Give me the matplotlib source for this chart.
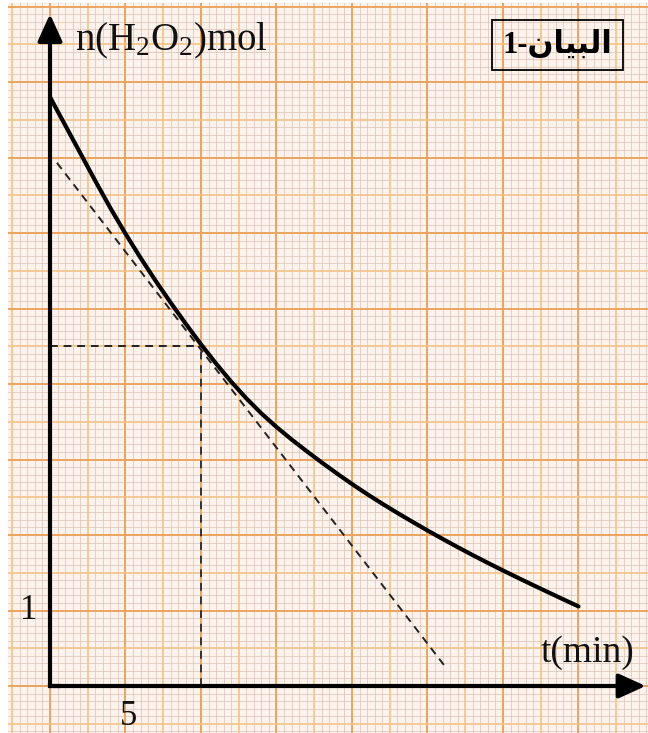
import numpy as np
import matplotlib
matplotlib.use("Agg")
import matplotlib.pyplot as plt

# ---- data ----
t_curve = [0, 1, 2, 3, 4, 5, 6, 7, 8, 9, 10, 11, 12, 13, 14, 15, 16, 17, 18,
           19, 20, 21, 22, 23, 24, 25, 26, 27, 28, 29, 30, 31, 32, 33, 34, 35]
n_curve = [7.8, 7.43, 7.06, 6.69, 6.33, 5.99, 5.67, 5.365, 5.075, 4.795, 4.525, 4.27,
           4.03, 3.81, 3.61, 3.43, 3.265, 3.11, 2.96, 2.815, 2.675, 2.542, 2.415, 2.293,
           2.175, 2.06, 1.948, 1.839, 1.733, 1.63, 1.53, 1.432, 1.336, 1.241, 1.147, 1.054]
t_tangent = [0.46, 26.2]
n_tangent = [6.93, 0.25]
t_point = 10
n_point = 4.5
x_tick_label = "5"
y_tick_label = "1"
x_label = "t(min)"
y_label = r"n(H$_2$O$_2$)mol"
title_text = "1-\uFEE5\uFE8E\uFEF4\uFE92\uFEDF\uFE8D"   # البيان-1 (visual order, presentation forms)

plt.rcParams['mathtext.fontset'] = 'custom'
plt.rcParams['mathtext.rm'] = 'Liberation Serif'
plt.rcParams['mathtext.it'] = 'Liberation Serif:italic'
plt.rcParams['mathtext.bf'] = 'Liberation Serif:bold'

W, H = 648, 733
fig = plt.figure(figsize=(W / 100, H / 100), dpi=100)
fig.patch.set_facecolor('white')
ax = fig.add_axes([8 / W, 0, 640 / W, 730 / H])
ax.set_facecolor('#fdf3ec')

px_t, px_n = 15.1, 75.5
x0, y0 = 50, 686
t_min, t_max = (8 - x0) / px_t, (W - x0) / px_t
n_min, n_max = (y0 - H) / px_n, (y0 - 3) / px_n
ax.set_xlim(t_min, t_max)
ax.set_ylim(n_min, n_max)
for s in ax.spines.values():
    s.set_visible(False)
ax.set_xticks([])
ax.set_yticks([])

# graph paper
minor_c, mid_c, major_c = '#d9c2b6', '#f3c488', '#eca460'
tv = np.arange(np.ceil(t_min / 0.5) * 0.5, t_max, 0.5)
nv = np.arange(np.ceil(n_min / 0.1) * 0.1, n_max, 0.1)
for t in tv:
    k = int(round(t / 0.5))
    if k % 10 == 0:
        c, lw = major_c, 1.4
    elif k % 5 == 0:
        c, lw = mid_c, 1.2
    else:
        c, lw = minor_c, 0.5
    ax.axvline(t, color=c, lw=lw, zorder=1 if lw < 1 else 2)
for n in nv:
    k = int(round(n / 0.1))
    if k % 10 == 0:
        c, lw = major_c, 1.4
    elif k % 5 == 0:
        c, lw = mid_c, 1.2
    else:
        c, lw = minor_c, 0.5
    ax.axhline(n, color=c, lw=lw, zorder=1 if lw < 1 else 2)

# axes with arrows
arrow_style = '-|>,head_length=1.1,head_width=0.5'
ax.annotate('', xy=(0, 8.90), xytext=(0, 0),
            arrowprops=dict(arrowstyle=arrow_style, lw=3,
                            color='black', shrinkA=0, shrinkB=0, mutation_scale=15),
            zorder=6)
ax.annotate('', xy=(39.45, 0), xytext=(0, 0),
            arrowprops=dict(arrowstyle=arrow_style, lw=3,
                            color='black', shrinkA=0, shrinkB=0, mutation_scale=15),
            zorder=6)
ax.plot([0, 0.6], [0, 0], color='black', lw=3, solid_capstyle='projecting', zorder=6)

# curve
ax.plot(t_curve, n_curve, color='black', lw=3, solid_capstyle='round',
        solid_joinstyle='round', zorder=5)
# tangent
ax.plot(t_tangent, n_tangent, color='#222222', lw=1.4, ls=(0, (4, 3)), zorder=4)
# guides
ax.plot([0, t_point], [n_point, n_point], color='#222222', lw=1.4, ls=(0, (4, 3)), zorder=4)
ax.plot([t_point, t_point], [0, n_point], color='#333333', lw=1.4, ls=(0, (4, 3)), zorder=4)

serif = 'Liberation Serif'
ax.text(1.66, 8.42, y_label, fontsize=28, family=serif, va='baseline', ha='left', color='#111111', zorder=7)
ax.text(32.5, 0.32, x_label, fontsize=27, family=serif, va='baseline', ha='left', color='#111111', zorder=7)
ax.text(-1.39, 1.0, y_tick_label, fontsize=25, family=serif, va='center', ha='center', color='#111111', zorder=7)
ax.text(5.2, -0.41, x_tick_label, fontsize=25, family=serif, va='center', ha='center', color='#111111', zorder=7)
ax.text(33.6, 8.49, title_text, fontsize=22, family=[serif, 'DejaVu Sans'], fontweight='bold',
        va='center', ha='center', color='black', zorder=7,
        bbox=dict(boxstyle='square,pad=0.35', fc='none', ec='black', lw=1.3))

fig.savefig('out.png', dpi=100)
